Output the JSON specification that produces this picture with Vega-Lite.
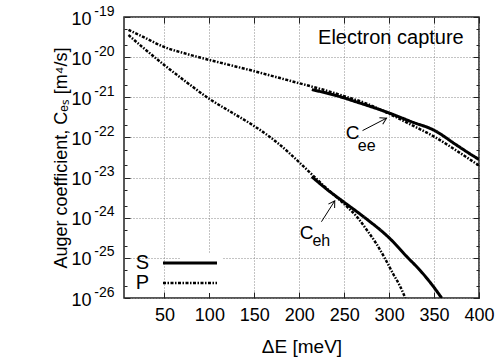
{
  "$schema": "https://vega.github.io/schema/vega-lite/v6.json",
  "width": 355,
  "height": 281,
  "autosize": {"type": "none"},
  "padding": {"left": 124, "top": 17, "right": 23, "bottom": 66},
  "background": "white",
  "config": {
    "font": "Liberation Sans",
    "view": {"stroke": "#222", "strokeWidth": 1.5},
    "axis": {"domain": false, "labelFont": "Liberation Sans", "titleFont": "Liberation Sans", "labelColor": "black", "titleColor": "black", "tickColor": "#222", "titleFontWeight": "normal", "labelFlush": false, "labelOverlap": false}
  },
  "datasets": {
    "curves": [
      {"dE": 10, "C": 4.79e-20, "model": "P", "coef": "ee"},
      {"dE": 25, "C": 3.31e-20, "model": "P", "coef": "ee"},
      {"dE": 50, "C": 1.78e-20, "model": "P", "coef": "ee"},
      {"dE": 75, "C": 1.20e-20, "model": "P", "coef": "ee"},
      {"dE": 100, "C": 8.51e-21, "model": "P", "coef": "ee"},
      {"dE": 125, "C": 6.17e-21, "model": "P", "coef": "ee"},
      {"dE": 150, "C": 4.47e-21, "model": "P", "coef": "ee"},
      {"dE": 175, "C": 3.16e-21, "model": "P", "coef": "ee"},
      {"dE": 200, "C": 2.24e-21, "model": "P", "coef": "ee"},
      {"dE": 225, "C": 1.58e-21, "model": "P", "coef": "ee"},
      {"dE": 250, "C": 1.07e-21, "model": "P", "coef": "ee"},
      {"dE": 275, "C": 6.92e-22, "model": "P", "coef": "ee"},
      {"dE": 300, "C": 3.89e-22, "model": "P", "coef": "ee"},
      {"dE": 325, "C": 2.04e-22, "model": "P", "coef": "ee"},
      {"dE": 350, "C": 1.05e-22, "model": "P", "coef": "ee"},
      {"dE": 375, "C": 4.68e-23, "model": "P", "coef": "ee"},
      {"dE": 400, "C": 2.0e-23, "model": "P", "coef": "ee"},
      {"dE": 214, "C": 1.55e-21, "model": "S", "coef": "ee"},
      {"dE": 240, "C": 1.12e-21, "model": "S", "coef": "ee"},
      {"dE": 267, "C": 7.24e-22, "model": "S", "coef": "ee"},
      {"dE": 300, "C": 4.07e-22, "model": "S", "coef": "ee"},
      {"dE": 325, "C": 2.45e-22, "model": "S", "coef": "ee"},
      {"dE": 350, "C": 1.51e-22, "model": "S", "coef": "ee"},
      {"dE": 375, "C": 6.46e-23, "model": "S", "coef": "ee"},
      {"dE": 390, "C": 3.89e-23, "model": "S", "coef": "ee"},
      {"dE": 400, "C": 2.82e-23, "model": "S", "coef": "ee"},
      {"dE": 10, "C": 3.55e-20, "model": "P", "coef": "eh"},
      {"dE": 25, "C": 1.82e-20, "model": "P", "coef": "eh"},
      {"dE": 50, "C": 6.31e-21, "model": "P", "coef": "eh"},
      {"dE": 75, "C": 2.34e-21, "model": "P", "coef": "eh"},
      {"dE": 100, "C": 9.12e-22, "model": "P", "coef": "eh"},
      {"dE": 125, "C": 4.17e-22, "model": "P", "coef": "eh"},
      {"dE": 150, "C": 1.91e-22, "model": "P", "coef": "eh"},
      {"dE": 175, "C": 7.59e-23, "model": "P", "coef": "eh"},
      {"dE": 200, "C": 2.40e-23, "model": "P", "coef": "eh"},
      {"dE": 214, "C": 1.20e-23, "model": "P", "coef": "eh"},
      {"dE": 227, "C": 6.31e-24, "model": "P", "coef": "eh"},
      {"dE": 250, "C": 2.19e-24, "model": "P", "coef": "eh"},
      {"dE": 265, "C": 1.0e-24, "model": "P", "coef": "eh"},
      {"dE": 275, "C": 5.01e-25, "model": "P", "coef": "eh"},
      {"dE": 285, "C": 2.40e-25, "model": "P", "coef": "eh"},
      {"dE": 295, "C": 1.0e-25, "model": "P", "coef": "eh"},
      {"dE": 305, "C": 3.80e-26, "model": "P", "coef": "eh"},
      {"dE": 312, "C": 2.0e-26, "model": "P", "coef": "eh"},
      {"dE": 318, "C": 1.0e-26, "model": "P", "coef": "eh"},
      {"dE": 214, "C": 1.05e-23, "model": "S", "coef": "eh"},
      {"dE": 230, "C": 5.25e-24, "model": "S", "coef": "eh"},
      {"dE": 249, "C": 2.51e-24, "model": "S", "coef": "eh"},
      {"dE": 273, "C": 1.0e-24, "model": "S", "coef": "eh"},
      {"dE": 300, "C": 3.16e-25, "model": "S", "coef": "eh"},
      {"dE": 321, "C": 1.0e-25, "model": "S", "coef": "eh"},
      {"dE": 334, "C": 5.01e-26, "model": "S", "coef": "eh"},
      {"dE": 347, "C": 2.24e-26, "model": "S", "coef": "eh"},
      {"dE": 358.5, "C": 1.0e-26, "model": "S", "coef": "eh"}
    ],
    "title": [{"dE": 383, "C": 3.02e-20, "t": "Electron capture"}],
    "big": [
      {"dE": 251.8, "C": 1.29e-22, "t": "C"},
      {"dE": 200.5, "C": 4.17e-25, "t": "C"}
    ],
    "subs": [
      {"dE": 265.2, "C": 6.17e-23, "t": "ee"},
      {"dE": 214.7, "C": 2.63e-25, "t": "eh"}
    ],
    "arrows": [
      {"name": "ee", "x1": 270.4, "y1": 1.48e-22, "x2": 297.1, "y2": 3.02e-22},
      {"name": "eh", "x1": 224.7, "y1": 7.94e-25, "x2": 239.5, "y2": 2.63e-24}
    ]
  },
  "resolve": {"axis": {"x": "independent", "y": "independent"}},
  "layer": [
    {
      "data": {"name": "curves"},
      "mark": {"type": "line", "interpolate": "monotone", "color": "black", "clip": true},
      "encoding": {
        "x": {"field": "dE", "type": "quantitative",
          "scale": {"domain": [5, 400], "nice": false, "zero": false},
          "axis": {"orient": "bottom", "values": [50, 100, 150, 200, 250, 300, 350, 400], "grid": true, "gridDash": [1, 2], "gridColor": "#888", "tickSize": -6, "labelFontSize": 18, "labelPadding": 14, "title": "ΔE [meV]", "titleFontSize": 19, "titlePadding": 13}},
        "y": {"field": "C", "type": "quantitative",
          "scale": {"type": "log", "domain": [1e-26, 1e-19], "nice": false},
          "axis": {"orient": "left", "values": [1e-19, 1e-20, 1e-21, 1e-22, 1e-23, 1e-24, 1e-25, 1e-26], "grid": true, "gridDash": [1, 2], "gridColor": "#888", "tickSize": -6, "labelFontSize": 18, "labelPadding": 39, "labelOffset": 2,
            "labelExpr": "'10'",
            "title": "Auger coefficient, Cₑₛ [m⁴/s]", "titleFontSize": 18, "titlePadding": 0}},
        "strokeDash": {"field": "model", "type": "nominal",
          "scale": {"domain": ["S", "P"], "range": [[1, 0], [3, 1.5, 1.5, 1.5]]},
          "legend": {"orient": "none", "legendX": 56, "legendY": 236, "title": null, "symbolType": "M-5.4,0H5.4", "symbolSize": 100, "symbolStrokeWidth": 2.5, "symbolStrokeColor": "black", "symbolFillColor": "transparent", "labelAlign": "right", "labelOffset": -51, "labelFontSize": 20, "labelFont": "Liberation Sans", "rowPadding": 0, "padding": 0, "fillColor": "white"}},
        "strokeWidth": {"field": "model", "type": "nominal", "scale": {"domain": ["S", "P"], "range": [3, 2.5]}, "legend": null},
        "detail": {"field": "coef"}
      }
    },
    {
      "data": {"name": "title"},
      "mark": {"type": "text", "align": "right", "baseline": "middle", "fontSize": 20, "font": "Liberation Sans", "color": "black"},
      "encoding": {
        "x": {"field": "dE", "type": "quantitative", "scale": {"domain": [5, 400], "nice": false, "zero": false},
          "axis": {"orient": "top", "values": [50, 100, 150, 200, 250, 300, 350, 400], "labels": false, "grid": false, "tickSize": -6, "title": null}},
        "y": {"field": "C", "type": "quantitative", "scale": {"type": "log", "domain": [1e-26, 1e-19], "nice": false},
          "axis": {"orient": "right", "values": [1e-19, 1e-20, 1e-21, 1e-22, 1e-23, 1e-24, 1e-25, 1e-26], "labels": false, "grid": false, "tickSize": -6, "title": null}},
        "text": {"field": "t"}
      }
    },
    {
      "data": {"name": "big"},
      "mark": {"type": "text", "align": "left", "baseline": "middle", "fontSize": 19, "font": "Liberation Sans", "color": "black"},
      "encoding": {
        "x": {"field": "dE", "type": "quantitative", "scale": {"domain": [5, 400], "nice": false, "zero": false}, "axis": null},
        "y": {"field": "C", "type": "quantitative", "scale": {"type": "log", "domain": [1e-26, 1e-19], "nice": false},
          "axis": {"orient": "left", "values": [5e-20, 2e-20, 5e-21, 2e-21, 5e-22, 2e-22, 5e-23, 2e-23, 5e-24, 2e-24, 5e-25, 2e-25, 5e-26, 2e-26], "labels": false, "grid": false, "tickSize": -3, "title": null}},
        "text": {"field": "t"}
      }
    },
    {
      "data": {"name": "subs"},
      "mark": {"type": "text", "align": "left", "baseline": "middle", "fontSize": 16, "font": "Liberation Sans", "color": "black"},
      "encoding": {
        "x": {"field": "dE", "type": "quantitative", "scale": {"domain": [5, 400], "nice": false, "zero": false}, "axis": null},
        "y": {"field": "C", "type": "quantitative", "scale": {"type": "log", "domain": [1e-26, 1e-19], "nice": false},
          "axis": {"orient": "right", "values": [5e-20, 2e-20, 5e-21, 2e-21, 5e-22, 2e-22, 5e-23, 2e-23, 5e-24, 2e-24, 5e-25, 2e-25, 5e-26, 2e-26], "labels": false, "grid": false, "tickSize": -3, "title": null}},
        "text": {"field": "t"}
      }
    },
    {
      "data": {"name": "arrows"},
      "mark": {"type": "rule", "color": "black", "strokeWidth": 1},
      "encoding": {
        "x": {"field": "x1", "type": "quantitative", "scale": {"domain": [5, 400], "nice": false, "zero": false}, "axis": null},
        "y": {"field": "y1", "type": "quantitative", "scale": {"type": "log", "domain": [1e-26, 1e-19], "nice": false},
          "axis": {"orient": "left", "values": [1e-19, 1e-20, 1e-21, 1e-22, 1e-23, 1e-24, 1e-25, 1e-26], "grid": false, "tickSize": -6, "tickOpacity": 0, "labelFontSize": 14, "labelPadding": 16, "labelOffset": -6,
            "labelExpr": "'-' + round(-log(datum.value)/LN10)", "title": null}},
        "x2": {"field": "x2"},
        "y2": {"field": "y2"}
      }
    },
    {
      "data": {"name": "arrows"},
      "transform": [{"filter": "datum.name == 'ee'"}],
      "mark": {"type": "point", "shape": "M-1,-0.6L0,0L-1,0.6", "filled": false, "size": 150, "strokeWidth": 1, "color": "black", "opacity": 1, "angle": -27},
      "encoding": {
        "x": {"field": "x2", "type": "quantitative", "scale": {"domain": [5, 400], "nice": false, "zero": false}, "axis": null},
        "y": {"field": "y2", "type": "quantitative", "scale": {"type": "log", "domain": [1e-26, 1e-19], "nice": false}, "axis": null}
      }
    },
    {
      "data": {"name": "arrows"},
      "transform": [{"filter": "datum.name == 'eh'"}],
      "mark": {"type": "point", "shape": "M-1,-0.6L0,0L-1,0.6", "filled": false, "size": 150, "strokeWidth": 1, "color": "black", "opacity": 1, "angle": -58},
      "encoding": {
        "x": {"field": "x2", "type": "quantitative", "scale": {"domain": [5, 400], "nice": false, "zero": false}, "axis": null},
        "y": {"field": "y2", "type": "quantitative", "scale": {"type": "log", "domain": [1e-26, 1e-19], "nice": false}, "axis": null}
      }
    }
  ]
}
